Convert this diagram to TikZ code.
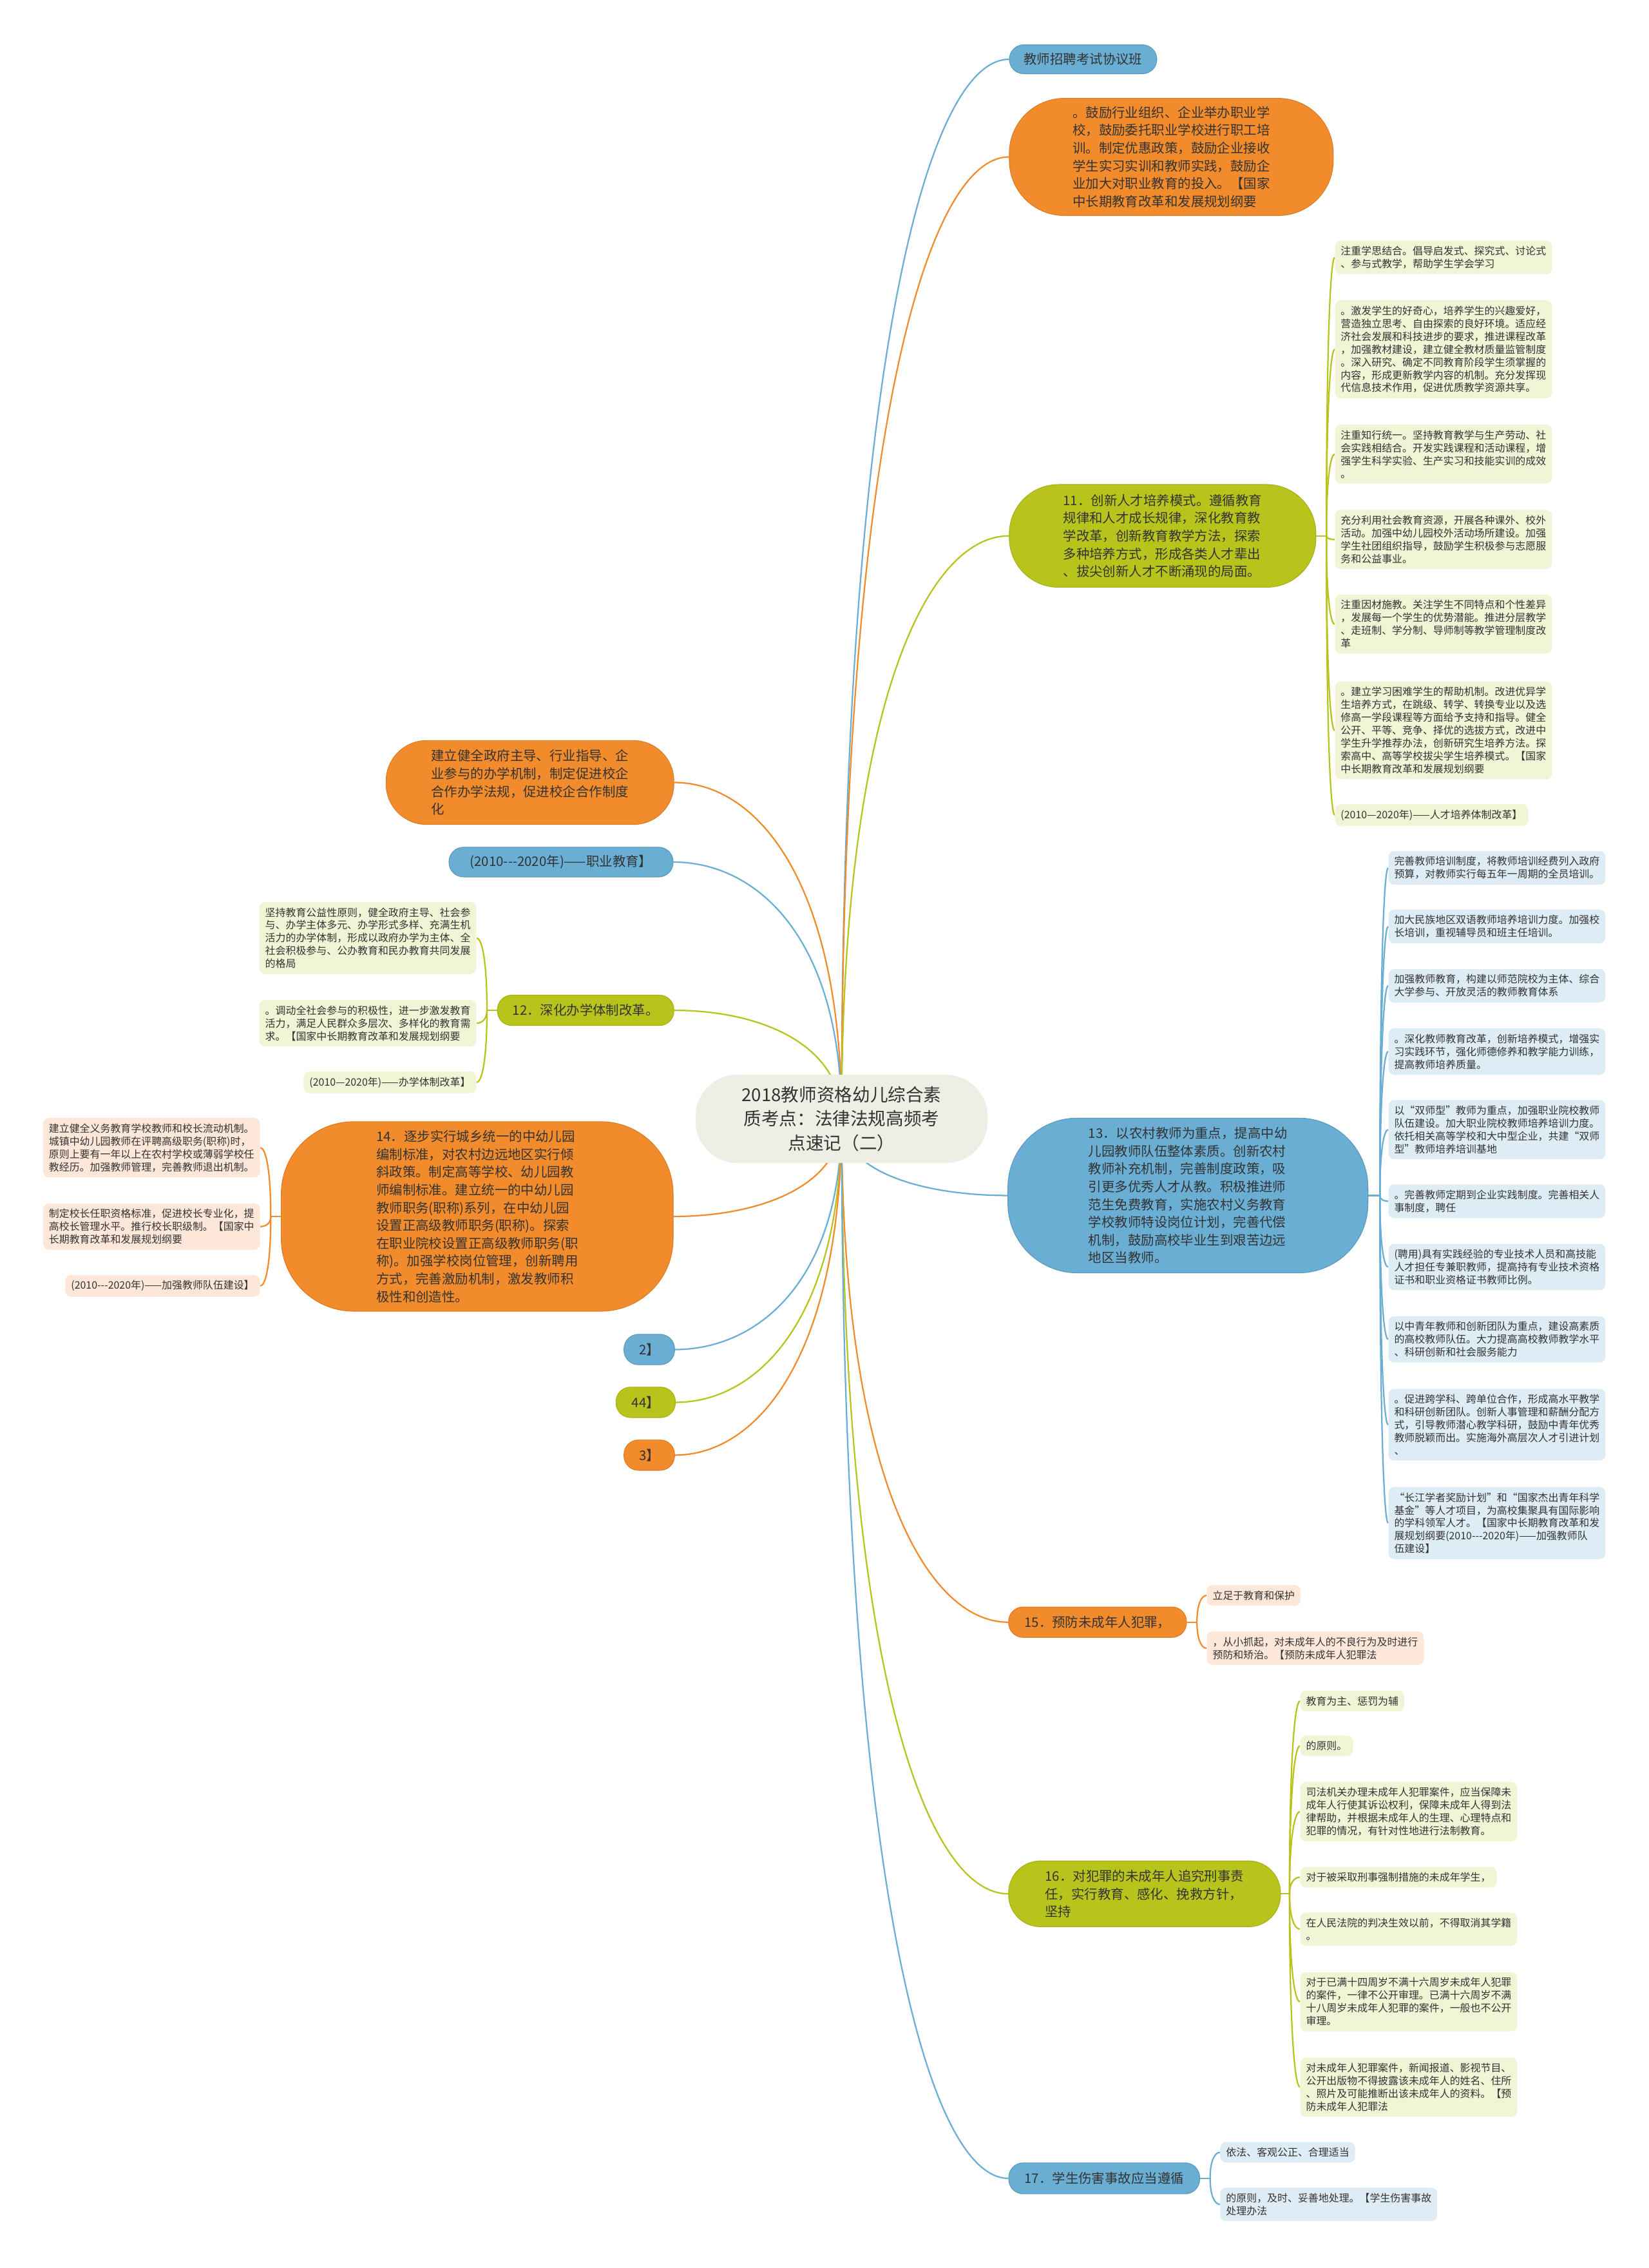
\documentclass[tikz,border=0pt]{standalone}
\usepackage{fontspec}
\setmainfont{Noto Sans CJK SC}
\usetikzlibrary{calc}
\usetikzlibrary{backgrounds}
\tikzset{>=latex}
\definecolor{mapblue}{RGB}{106,174,212}
\definecolor{maporange}{RGB}{242,139,44}
\definecolor{mapgreen}{RGB}{184,196,28}
\definecolor{mapcentre}{RGB}{238,238,228}
\definecolor{leafgreen}{RGB}{242,244,214}
\definecolor{leafblue}{RGB}{222,236,245}
\definecolor{leafpeach}{RGB}{253,231,216}
\definecolor{inkgrey}{RGB}{51,51,51}
\newcommand\mainsize{\fontsize{9.1}{12.3}\selectfont}
\newcommand\leafsize{\fontsize{7.1}{8.9}\selectfont}
\newcommand\titlesize{\fontsize{12.3}{16.8}\selectfont}
\newcommand\tri{-\kern0pt-\kern0pt-}
\tikzstyle{topic}=[rectangle,align=left,text=inkgrey,font=\mainsize,inner sep=0pt,line width=0.5pt]
\tikzstyle{bluetopic}=[topic,fill=mapblue,draw=mapblue!88!black]
\tikzstyle{orangetopic}=[topic,fill=maporange,draw=maporange!90!black]
\tikzstyle{greentopic}=[topic,fill=mapgreen,draw=mapgreen!90!black]
\tikzstyle{centretopic}=[topic,fill=mapcentre,align=center,font=\titlesize]
\tikzstyle{leaf}=[rectangle,rounded corners=4pt,align=left,text=inkgrey,font=\leafsize,inner xsep=4pt,inner ysep=3.8pt]
\tikzstyle{greenleaf}=[leaf,fill=leafgreen]
\tikzstyle{blueleaf}=[leaf,fill=leafblue]
\tikzstyle{peachleaf}=[leaf,fill=leafpeach]
\tikzstyle{blueline}=[draw=mapblue,line width=1pt]
\tikzstyle{orangeline}=[draw=maporange,line width=1pt]
\tikzstyle{greenline}=[draw=mapgreen,line width=1pt]
% curved link: leaves #2 upright, meets #3 level
\newcommand\branch[3]{\draw[#1] (#2) let \p1=(#2), \p2=(#3) in
  .. controls (\x1,{(\y2)+0.3*((\y1)-(\y2))}) and ({(\x1)+0.5*((\x2)-(\x1))},\y2) .. (#3);}

\begin{document}
\begin{tikzpicture}[x=1pt,y=-1pt]
  \useasboundingbox (0,0) rectangle (1140,1568);

  \node[centretopic,minimum width=202,minimum height=61,rounded corners=29] (ctr) at (582,773.5) {2018教师资格幼儿综合素\\质考点：法律法规高频考\\点速记（二）};

  % right hand topics
  \node[bluetopic,minimum width=102,minimum height=20,rounded corners=10] (recruit) at (749,41) {教师招聘考试协议班};
  \node[orangetopic,minimum width=224,minimum height=81,rounded corners=38] (voc) at (810,108.5) {。鼓励行业组织、企业举办职业学\\校，鼓励委托职业学校进行职工培\\训。制定优惠政策，鼓励企业接收\\学生实习实训和教师实践，鼓励企\\业加大对职业教育的投入。【国家\\中长期教育改革和发展规划纲要};
  \node[greentopic,minimum width=212,minimum height=71,rounded corners=34] (n11) at (804,370.5) {11．创新人才培养模式。遵循教育\\规律和人才成长规律，深化教育教\\学改革，创新教育教学方法，探索\\多种培养方式，形成各类人才辈出\\、拔尖创新人才不断涌现的局面。};
  \node[bluetopic,minimum width=249,minimum height=107,rounded corners=48] (n13) at (821.5,826.5) {13．以农村教师为重点，提高中幼\\儿园教师队伍整体素质。创新农村\\教师补充机制，完善制度政策，吸\\引更多优秀人才从教。积极推进师\\范生免费教育，实施农村义务教育\\学校教师特设岗位计划，完善代偿\\机制，鼓励高校毕业生到艰苦边远\\地区当教师。};
  \node[orangetopic,minimum width=123,minimum height=21,rounded corners=10] (n15) at (759,1121.5) {15．预防未成年人犯罪，};
  \node[greentopic,minimum width=188,minimum height=45.5,rounded corners=22] (n16) at (791.5,1309.3) {16．对犯罪的未成年人追究刑事责\\任，实行教育、感化、挽救方针，\\坚持};
  \node[bluetopic,minimum width=132,minimum height=21.4,rounded corners=10] (n17) at (763.6,1506) {17．学生伤害事故应当遵循};

  % left hand topics
  \node[orangetopic,minimum width=199,minimum height=58,rounded corners=28] (coop) at (366.5,541) {建立健全政府主导、行业指导、企\\业参与的办学机制，制定促进校企\\合作办学法规，促进校企合作制度\\化};
  \node[bluetopic,minimum width=155,minimum height=20.5,rounded corners=10] (vocyear) at (388,596) {(2010\tri2020年)——职业教育】};
  \node[greentopic,minimum width=122,minimum height=21,rounded corners=10] (n12) at (405,698.5) {12．深化办学体制改革。};
  \node[orangetopic,minimum width=271,minimum height=131,rounded corners=50] (n14) at (330,841) {14．逐步实行城乡统一的中幼儿园\\编制标准，对农村边远地区实行倾\\斜政策。制定高等学校、幼儿园教\\师编制标准。建立统一的中幼儿园\\教师职务(职称)系列，在中幼儿园\\设置正高级教师职务(职称)。探索\\在职业院校设置正高级教师职务(职\\称)。加强学校岗位管理，创新聘用\\方式，完善激励机制，激发教师积\\极性和创造性。};
  \node[bluetopic,minimum width=35,minimum height=21,rounded corners=10] (s2) at (449,933) {2】};
  \node[greentopic,minimum width=41,minimum height=21,rounded corners=10] (s44) at (446.5,969.5) {44】};
  \node[orangetopic,minimum width=35,minimum height=21,rounded corners=10] (s3) at (449,1006) {3】};

  % leaves of 11
  \node[greenleaf,anchor=west] (l11a) at (923,178) {注重学思结合。倡导启发式、探究式、讨论式\\、参与式教学，帮助学生学会学习};
  \node[greenleaf,anchor=west] (l11b) at (923,241.5) {。激发学生的好奇心，培养学生的兴趣爱好，\\营造独立思考、自由探索的良好环境。适应经\\济社会发展和科技进步的要求，推进课程改革\\，加强教材建设，建立健全教材质量监管制度\\。深入研究、确定不同教育阶段学生须掌握的\\内容，形成更新教学内容的机制。充分发挥现\\代信息技术作用，促进优质教学资源共享。};
  \node[greenleaf,anchor=west] (l11c) at (923,314) {注重知行统一。坚持教育教学与生产劳动、社\\会实践相结合。开发实践课程和活动课程，增\\强学生科学实验、生产实习和技能实训的成效\\。};
  \node[greenleaf,anchor=west] (l11d) at (923,373) {充分利用社会教育资源，开展各种课外、校外\\活动。加强中幼儿园校外活动场所建设。加强\\学生社团组织指导，鼓励学生积极参与志愿服\\务和公益事业。};
  \node[greenleaf,anchor=west] (l11e) at (923,431.5) {注重因材施教。关注学生不同特点和个性差异\\，发展每一个学生的优势潜能。推进分层教学\\、走班制、学分制、导师制等教学管理制度改\\革};
  \node[greenleaf,anchor=west] (l11f) at (923,505) {。建立学习困难学生的帮助机制。改进优异学\\生培养方式，在跳级、转学、转换专业以及选\\修高一学段课程等方面给予支持和指导。健全\\公开、平等、竞争、择优的选拔方式，改进中\\学生升学推荐办法，创新研究生培养方法。探\\索高中、高等学校拔尖学生培养模式。【国家\\中长期教育改革和发展规划纲要};
  \node[greenleaf,anchor=west] (l11g) at (923,563.5) {(2010—2020年)——人才培养体制改革】};

  % leaves of 13
  \node[blueleaf,anchor=west] (l13a) at (960,600) {完善教师培训制度，将教师培训经费列入政府\\预算，对教师实行每五年一周期的全员培训。};
  \node[blueleaf,anchor=west] (l13b) at (960,640.5) {加大民族地区双语教师培养培训力度。加强校\\长培训，重视辅导员和班主任培训。};
  \node[blueleaf,anchor=west] (l13c) at (960,681.5) {加强教师教育，构建以师范院校为主体、综合\\大学参与、开放灵活的教师教育体系};
  \node[blueleaf,anchor=west] (l13d) at (960,727) {。深化教师教育改革，创新培养模式，增强实\\习实践环节，强化师德修养和教学能力训练，\\提高教师培养质量。};
  \node[blueleaf,anchor=west] (l13e) at (960,781) {以“双师型”教师为重点，加强职业院校教师\\队伍建设。加大职业院校教师培养培训力度。\\依托相关高等学校和大中型企业，共建“双师\\型”教师培养培训基地};
  \node[blueleaf,anchor=west] (l13f) at (960,830.5) {。完善教师定期到企业实践制度。完善相关人\\事制度，聘任};
  \node[blueleaf,anchor=west] (l13g) at (960,876) {(聘用)具有实践经验的专业技术人员和高技能\\人才担任专兼职教师，提高持有专业技术资格\\证书和职业资格证书教师比例。};
  \node[blueleaf,anchor=west] (l13h) at (960,926) {以中青年教师和创新团队为重点，建设高素质\\的高校教师队伍。大力提高高校教师教学水平\\、科研创新和社会服务能力};
  \node[blueleaf,anchor=west] (l13i) at (960,985) {。促进跨学科、跨单位合作，形成高水平教学\\和科研创新团队。创新人事管理和薪酬分配方\\式，引导教师潜心教学科研，鼓励中青年优秀\\教师脱颖而出。实施海外高层次人才引进计划\\、};
  \node[blueleaf,anchor=west] (l13j) at (960,1053) {“长江学者奖励计划”和“国家杰出青年科学\\基金”等人才项目，为高校集聚具有国际影响\\的学科领军人才。【国家中长期教育改革和发\\展规划纲要(2010\tri2020年)——加强教师队\\伍建设】};

  % leaves of 12
  \node[greenleaf,anchor=east] (l12a) at (329.6,648.5) {坚持教育公益性原则，健全政府主导、社会参\\与、办学主体多元、办学形式多样、充满生机\\活力的办学体制，形成以政府办学为主体、全\\社会积极参与、公办教育和民办教育共同发展\\的格局};
  \node[greenleaf,anchor=east] (l12b) at (329.6,707.4) {。调动全社会参与的积极性，进一步激发教育\\活力，满足人民群众多层次、多样化的教育需\\求。【国家中长期教育改革和发展规划纲要};
  \node[greenleaf,anchor=east] (l12c) at (329.6,748.3) {(2010—2020年)——办学体制改革】};

  % leaves of 14
  \node[peachleaf,anchor=east] (l14a) at (180,793.5) {建立健全义务教育学校教师和校长流动机制。\\城镇中幼儿园教师在评聘高级职务(职称)时，\\原则上要有一年以上在农村学校或薄弱学校任\\教经历。加强教师管理，完善教师退出机制。};
  \node[peachleaf,anchor=east] (l14b) at (180,848) {制定校长任职资格标准，促进校长专业化，提\\高校长管理水平。推行校长职级制。【国家中\\长期教育改革和发展规划纲要};
  \node[peachleaf,anchor=east] (l14c) at (180,889) {(2010\tri2020年)——加强教师队伍建设】};

  % leaves of 15, 16, 17
  \node[peachleaf,anchor=west] (l15a) at (834.4,1103) {立足于教育和保护};
  \node[peachleaf,anchor=west] (l15b) at (834.4,1139.5) {，从小抓起，对未成年人的不良行为及时进行\\预防和矫治。【预防未成年人犯罪法};
  \node[greenleaf,anchor=west] (l16a) at (899,1176) {教育为主、惩罚为辅};
  \node[greenleaf,anchor=west] (l16b) at (899,1207) {的原则。};
  \node[greenleaf,anchor=west] (l16c) at (899,1252.5) {司法机关办理未成年人犯罪案件，应当保障未\\成年人行使其诉讼权利，保障未成年人得到法\\律帮助，并根据未成年人的生理、心理特点和\\犯罪的情况，有针对性地进行法制教育。};
  \node[greenleaf,anchor=west] (l16d) at (899,1297.8) {对于被采取刑事强制措施的未成年学生，};
  \node[greenleaf,anchor=west] (l16e) at (899,1333.7) {在人民法院的判决生效以前，不得取消其学籍\\。};
  \node[greenleaf,anchor=west] (l16f) at (899,1383.9) {对于已满十四周岁不满十六周岁未成年人犯罪\\的案件，一律不公开审理。已满十六周岁不满\\十八周岁未成年人犯罪的案件，一般也不公开\\审理。};
  \node[greenleaf,anchor=west] (l16g) at (899,1442.9) {对未成年人犯罪案件，新闻报道、影视节目、\\公开出版物不得披露该未成年人的姓名、住所\\、照片及可能推断出该未成年人的资料。【预\\防未成年人犯罪法};
  \node[blueleaf,anchor=west] (l17a) at (843.7,1488) {依法、客观公正、合理适当};
  \node[blueleaf,anchor=west] (l17b) at (843.7,1524) {的原则，及时、妥善地处理。【学生伤害事故\\处理办法};

  \begin{pgfonlayer}{background}
    \fill[white] (0,0) rectangle (1140,1568);
    % from the centre to the topics
    \branch{blueline}{ctr.center}{recruit.west}
    \branch{orangeline}{ctr.center}{voc.west}
    \branch{greenline}{ctr.center}{n11.west}
    \branch{blueline}{ctr.center}{n13.west}
    \branch{orangeline}{ctr.center}{n15.west}
    \branch{greenline}{ctr.center}{n16.west}
    \branch{blueline}{ctr.center}{n17.west}
    \branch{orangeline}{ctr.center}{coop.east}
    \branch{blueline}{ctr.center}{vocyear.east}
    \branch{greenline}{ctr.center}{n12.east}
    \branch{orangeline}{ctr.center}{n14.east}
    \branch{blueline}{ctr.center}{s2.east}
    \branch{greenline}{ctr.center}{s44.east}
    \branch{orangeline}{ctr.center}{s3.east}

    % topic 11
    \draw[greenline] (n11.east) -- ++(7,0) coordinate (k11);
    \branch{greenline}{k11}{l11a.west}
    \branch{greenline}{k11}{l11b.west}
    \branch{greenline}{k11}{l11c.west}
    \branch{greenline}{k11}{l11d.west}
    \branch{greenline}{k11}{l11e.west}
    \branch{greenline}{k11}{l11f.west}
    \branch{greenline}{k11}{l11g.west}
    % topic 13
    \draw[blueline] (n13.east) -- ++(8,0) coordinate (k13);
    \branch{blueline}{k13}{l13a.west}
    \branch{blueline}{k13}{l13b.west}
    \branch{blueline}{k13}{l13c.west}
    \branch{blueline}{k13}{l13d.west}
    \branch{blueline}{k13}{l13e.west}
    \branch{blueline}{k13}{l13f.west}
    \branch{blueline}{k13}{l13g.west}
    \branch{blueline}{k13}{l13h.west}
    \branch{blueline}{k13}{l13i.west}
    \branch{blueline}{k13}{l13j.west}
    % topic 12
    \draw[greenline] (n12.west) -- ++(-7,0) coordinate (k12);
    \branch{greenline}{k12}{l12a.east}
    \branch{greenline}{k12}{l12b.east}
    \branch{greenline}{k12}{l12c.east}
    % topic 14
    \draw[orangeline] (n14.west) -- ++(-7,0) coordinate (k14);
    \branch{orangeline}{k14}{l14a.east}
    \branch{orangeline}{k14}{l14b.east}
    \branch{orangeline}{k14}{l14c.east}
    % topics 15 to 17
    \draw[orangeline] (n15.east) -- ++(7,0) coordinate (k15);
    \branch{orangeline}{k15}{l15a.west}
    \branch{orangeline}{k15}{l15b.west}
    \draw[greenline] (n16.east) -- ++(6,0) coordinate (k16);
    \branch{greenline}{k16}{l16a.west}
    \branch{greenline}{k16}{l16b.west}
    \branch{greenline}{k16}{l16c.west}
    \branch{greenline}{k16}{l16d.west}
    \branch{greenline}{k16}{l16e.west}
    \branch{greenline}{k16}{l16f.west}
    \branch{greenline}{k16}{l16g.west}
    \draw[blueline] (n17.east) -- ++(7,0) coordinate (k17);
    \branch{blueline}{k17}{l17a.west}
    \branch{blueline}{k17}{l17b.west}
  \end{pgfonlayer}
\end{tikzpicture}
\end{document}
